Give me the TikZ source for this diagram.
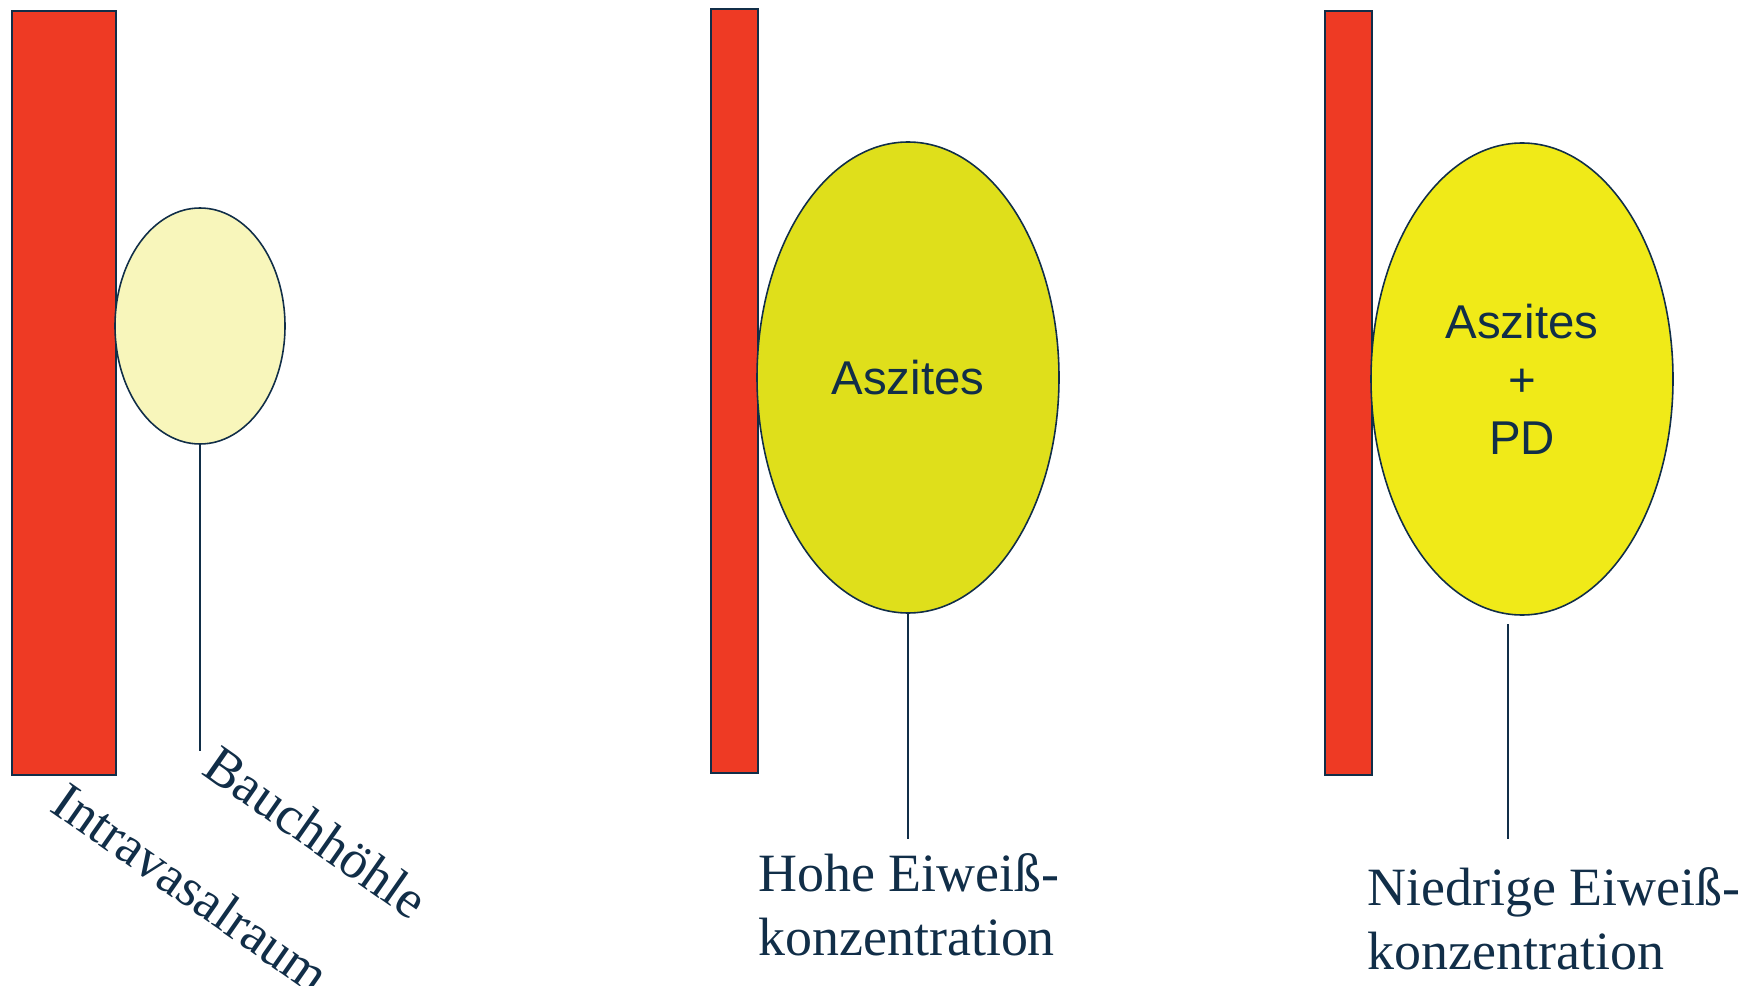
\documentclass[tikz,border=0pt]{standalone}
\usepackage{fontspec}
\setmainfont{Liberation Serif}
\newfontfamily\labelsans{Liberation Sans}
\usetikzlibrary{shapes.geometric}
\definecolor{vessel}{HTML}{EE3A24}
\definecolor{ink}{HTML}{112E48}
\definecolor{paleyellow}{HTML}{F8F6BB}
\definecolor{oliveyellow}{HTML}{DFDF1B}
\definecolor{brightyellow}{HTML}{F0EA18}
\tikzset{
  bar/.style={draw=ink, line width=0.9pt, fill=vessel, rectangle, inner sep=0pt, anchor=north west},
  cavity/.style={draw=ink, line width=0.9pt, ellipse, inner sep=0pt, text=ink,
    font=\labelsans\fontsize{27}{33}\selectfont, align=center},
  leader/.style={draw=ink, line width=0.9pt},
  caption/.style={text=ink, inner sep=0pt, font=\fontsize{30.7}{35.9}\selectfont},
}
\begin{document}
\begin{tikzpicture}[x=0.02cm, y=-0.02cm]
\useasboundingbox (0,0) rectangle (1754,986);

% left panel: vessel wall and small cavity
\node[bar, minimum width=104*0.02cm, minimum height=764*0.02cm] (v1) at (11,10) {};
\node[cavity, fill=paleyellow, minimum width=170*0.02cm, minimum height=236*0.02cm] (e1) at (200,326) {};
\coordinate (c1) at (200,751);
\draw[leader] (e1.south) -- (c1);
\node[caption, rotate=-35, anchor=base west] (t1) at (200,773) {Bauchhöhle};
\node[caption, rotate=-35, anchor=base west] (t2) at (48,810) {Intravasalraum};

% middle panel: high protein ascites
\node[bar, minimum width=47*0.02cm, minimum height=764*0.02cm] (v2) at (710,8) {};
\node[cavity, fill=oliveyellow, minimum width=302*0.02cm, minimum height=471*0.02cm] (e2) at (908,377.5) {Aszites};
\coordinate (c2) at (908,839);
\draw[leader] (e2.south) -- (c2);
% base anchor of a two-line caption sits on its last line
\node[caption, anchor=base west, align=left] (t3) at (758,955) {Hohe Eiweiß-\\konzentration};

% right panel: low protein ascites with PD
\node[bar, minimum width=47*0.02cm, minimum height=764*0.02cm] (v3) at (1324,10) {};
\node[cavity, fill=brightyellow, minimum width=302*0.02cm, minimum height=472*0.02cm] (e3) at (1522,379) {Aszites\\+\\PD};
\coordinate (d3) at (1508,624);
\coordinate (c3) at (1508,839);
\draw[leader] (d3) -- (c3);
\node[caption, anchor=base west, align=left] (t4) at (1367,969) {Niedrige Eiweiß-\\konzentration};
\end{tikzpicture}
\end{document}
